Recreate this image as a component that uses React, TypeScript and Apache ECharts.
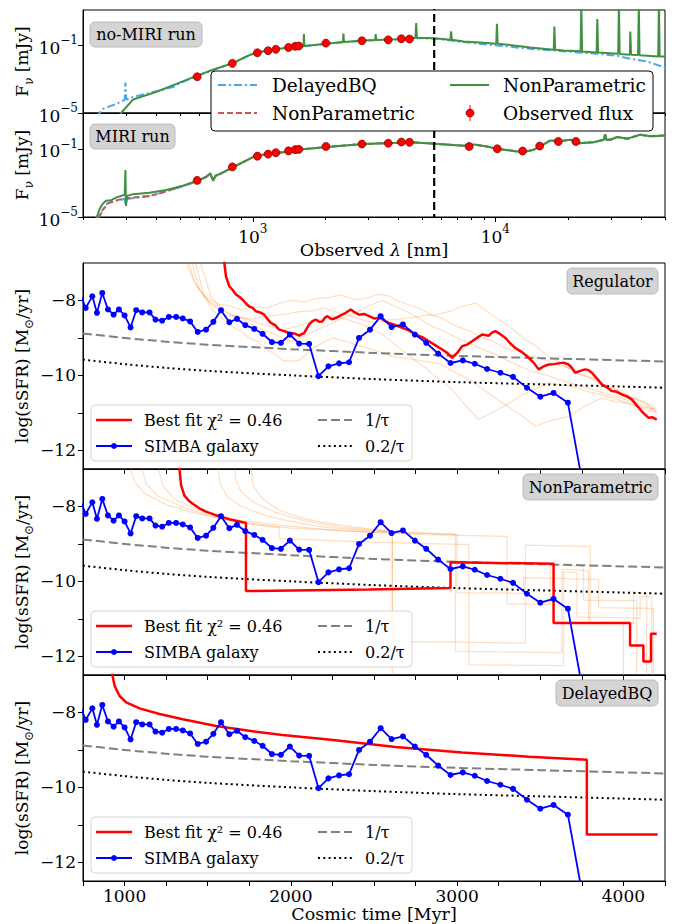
import React, { useEffect, useRef } from 'react';
import * as echarts from 'echarts';

const FONT = '"DejaVu Serif", serif';

// ---------- SED panels (log10 wavelength [nm], log10 flux [mJy]) ----------
const obsWave = [590, 824, 1045, 1157, 1245, 1404, 1496, 1549, 2003, 2820, 3620, 4100, 4430];
const obsFlux = [0.0014, 0.0087, 0.037, 0.049, 0.059, 0.076, 0.089, 0.093, 0.138, 0.19, 0.214, 0.25, 0.24];
const miriWave = [7810, 10190, 12970, 15250, 18200, 21500];
const miriFlux = [0.138, 0.1, 0.074, 0.145, 0.27, 0.27];
const cutWave = 5600;

const noMiriNonParam = [
  [2.43, -5.6], [2.457, -5.0], [2.506, -4.21], [2.547, -4.01], [2.588, -3.82], [2.643, -3.52], [2.712, -3.13],
  [2.781, -2.73], [2.836, -2.44], [2.919, -2.04], [2.974, -1.65], [3.001, -1.49], [3.056, -1.3], [3.125, -1.16],
  [3.194, -1.02], [3.209, -1.04], [3.211, -0.33], [3.213, -1.04], [3.263, -0.96], [3.332, -0.86], [3.372, -0.8],
  [3.374, -0.3], [3.376, -0.8], [3.456, -0.7], [3.505, -0.68], [3.507, -0.32], [3.509, -0.68], [3.594, -0.63],
  [3.671, -0.55], [3.674, 0.32], [3.677, -0.55], [3.749, -0.57], [3.815, -0.66], [3.818, -0.17], [3.821, -0.66],
  [3.869, -0.76], [3.938, -0.82], [4.004, -0.9], [4.007, 0.28], [4.01, -0.9], [4.076, -1.0], [4.145, -1.12],
  [4.241, -1.26], [4.244, 0.12], [4.247, -1.26], [4.282, -1.3], [4.352, -1.35], [4.355, 1.5], [4.358, -1.36],
  [4.418, -1.41], [4.421, 0.56], [4.424, -1.42], [4.507, -1.49], [4.51, 1.5], [4.513, -1.5], [4.555, -1.55],
  [4.557, -0.17], [4.56, -1.55], [4.589, -1.57], [4.592, 1.5], [4.595, -1.58], [4.672, -1.65], [4.675, 1.5],
  [4.678, -1.65], [4.71, -1.66],
];
const noMiriDelayed = [
  [2.355, -5.3], [2.368, -5.0], [2.382, -4.76], [2.409, -4.61], [2.437, -4.47], [2.472, -4.21], [2.475, -3.19],
  [2.478, -4.21], [2.506, -4.05], [2.561, -3.86], [2.616, -3.66], [2.671, -3.46], [2.712, -3.15], [2.781, -2.75],
  [2.836, -2.45], [2.919, -2.05], [2.974, -1.67], [3.001, -1.5], [3.056, -1.31], [3.125, -1.17], [3.194, -1.03],
  [3.263, -0.97], [3.332, -0.87], [3.456, -0.71], [3.594, -0.64], [3.671, -0.57], [3.749, -0.59], [3.869, -0.8],
  [4.007, -1.0], [4.145, -1.2], [4.282, -1.35], [4.421, -1.49], [4.503, -1.61], [4.557, -1.79], [4.626, -1.95],
  [4.71, -2.36],
];
const miriNonParam = [
  [2.35, -5.2], [2.357, -5.0], [2.368, -4.55], [2.382, -4.21], [2.395, -4.05], [2.416, -4.01], [2.437, -3.86],
  [2.457, -3.76], [2.472, -3.7], [2.475, -2.24], [2.477, -4.35], [2.483, -3.76], [2.506, -3.66], [2.574, -3.58],
  [2.643, -3.42], [2.712, -3.17], [2.774, -2.87], [2.809, -2.64], [2.825, -2.44], [2.836, -2.87], [2.847, -2.58],
  [2.864, -2.48], [2.919, -2.08], [3.001, -1.49], [3.056, -1.3], [3.125, -1.2], [3.194, -1.04], [3.332, -0.86],
  [3.456, -0.72], [3.594, -0.65], [3.649, -0.61], [3.749, -0.7], [3.869, -0.82], [3.91, -0.74], [3.965, -0.86],
  [4.007, -1.0], [4.062, -1.1], [4.113, -1.2], [4.158, -1.06], [4.2, -0.74], [4.227, -0.51], [4.268, -0.55],
  [4.31, -0.47], [4.344, -0.67], [4.406, -0.61], [4.448, -0.47], [4.453, -0.15], [4.458, -0.47], [4.475, -0.47],
  [4.503, -0.31], [4.544, -0.41], [4.599, -0.17], [4.64, -0.27], [4.71, -0.21],
];
const miriNonParamAltUV = [
  [2.36, -5.1], [2.368, -4.95], [2.382, -4.55], [2.409, -4.15], [2.45, -3.98], [2.475, -3.92], [2.506, -3.86],
  [2.574, -3.76], [2.616, -3.62], [2.671, -3.36], [2.712, -3.18],
];
const miriDelayedUV = [
  [2.362, -5.1], [2.372, -4.85], [2.4, -4.2], [2.45, -4.0], [2.472, -3.95], [2.475, -4.3], [2.478, -3.95],
  [2.506, -3.9], [2.574, -3.78], [2.643, -3.5], [2.712, -3.18],
];

// ---------- sSFR panels (cosmic time [Myr], log sSFR) ----------
const simbaGalaxy = [
  [740, -7.9], [766, -8.2], [806, -7.89], [834, -8.33], [866, -7.8], [900, -8.24], [934, -8.38], [966, -8.24],
  [1000, -8.4], [1036, -8.72], [1070, -8.26], [1106, -8.32], [1150, -8.32], [1186, -8.51], [1226, -8.54],
  [1266, -8.44], [1310, -8.44], [1350, -8.48], [1394, -8.56], [1440, -8.84], [1490, -8.78], [1534, -8.57],
  [1580, -8.26], [1630, -8.58], [1676, -8.49], [1726, -8.66], [1780, -8.76], [1830, -8.89], [1886, -9.11],
  [1940, -9.13], [1994, -8.91], [2050, -9.15], [2110, -9.16], [2166, -10.02], [2226, -9.76], [2290, -9.68],
  [2350, -9.65], [2410, -9.0], [2476, -8.78], [2540, -8.42], [2606, -8.71], [2674, -8.64], [2746, -8.91],
  [2814, -9.13], [2886, -9.42], [2960, -9.67], [3034, -9.6], [3106, -9.69], [3180, -9.83], [3260, -9.93],
  [3336, -10.04], [3420, -10.33], [3500, -10.57], [3580, -10.47], [3666, -10.73], [3800, -14.0],
];
const tauTimes = [750, 1000, 1250, 1500, 2000, 2500, 3000, 3500, 4000, 4250];
const invTau = [-8.88, -9.0, -9.1, -9.18, -9.3, -9.4, -9.48, -9.54, -9.6, -9.63];
const fifthInvTau = [-9.58, -9.7, -9.8, -9.88, -10.0, -10.1, -10.18, -10.24, -10.3, -10.33];

const regulatorFit = [
  [1598, -6.8], [1600, -7.0], [1610, -7.36], [1630, -7.62], [1650, -7.72], [1670, -7.84], [1690, -7.9],
  [1710, -7.98], [1730, -8.08], [1750, -8.16], [1770, -8.2], [1790, -8.29], [1815, -8.32], [1840, -8.38],
  [1860, -8.5], [1880, -8.6], [1905, -8.66], [1930, -8.78], [1960, -8.82], [1990, -8.87], [2020, -8.88],
  [2050, -8.94], [2065, -8.9], [2080, -8.87], [2095, -8.75], [2110, -8.64], [2130, -8.55], [2150, -8.51],
  [2170, -8.57], [2190, -8.56], [2205, -8.46], [2220, -8.42], [2245, -8.5], [2270, -8.47], [2300, -8.4],
  [2330, -8.33], [2360, -8.24], [2385, -8.32], [2410, -8.38], [2440, -8.36], [2470, -8.42], [2500, -8.48],
  [2540, -8.47], [2565, -8.55], [2590, -8.6], [2630, -8.66], [2670, -8.73], [2710, -8.8], [2750, -8.91],
  [2790, -8.98], [2830, -9.09], [2870, -9.2], [2910, -9.31], [2940, -9.4], [2970, -9.53], [3000, -9.4],
  [3030, -9.22], [3060, -9.18], [3090, -9.09], [3120, -9.0], [3150, -8.91], [3190, -8.94], [3210, -8.86],
  [3230, -8.82], [3260, -8.9], [3290, -9.0], [3320, -9.15], [3350, -9.27], [3390, -9.38], [3430, -9.53],
  [3460, -9.66], [3490, -9.84], [3520, -9.76], [3550, -9.71], [3580, -9.7], [3610, -9.68], [3640, -9.66],
  [3670, -9.71], [3690, -9.8], [3710, -9.93], [3740, -9.88], [3770, -9.84], [3790, -9.86], [3810, -9.93],
  [3840, -10.08], [3870, -10.24], [3900, -10.32], [3930, -10.42], [3960, -10.44], [3990, -10.51],
  [4020, -10.56], [4050, -10.64], [4080, -10.8], [4110, -10.96], [4130, -11.05], [4150, -11.13],
  [4175, -11.12], [4200, -11.18],
];
const regulatorSamples = [
  [[1380, -6.9], [1420, -7.5], [1480, -7.9], [1520, -7.98], [1560, -8.1], [1630, -8.14], [1700, -8.25],
   [1780, -8.18], [1850, -8.2], [1930, -8.08], [2000, -8.0], [2080, -8.04], [2150, -7.95], [2230, -7.92],
   [2300, -7.85], [2380, -7.98], [2450, -7.95], [2520, -7.84], [2590, -7.88], [2650, -8.02], [2700, -8.1],
   [2780, -8.22], [2850, -8.4], [2920, -8.5], [3000, -8.7], [3080, -8.82], [3150, -9.0], [3220, -9.1],
   [3300, -9.3], [3380, -9.36], [3450, -9.5], [3530, -9.58], [3600, -9.7], [3680, -9.82], [3750, -10.0],
   [3830, -10.1], [3900, -10.3], [3980, -10.4], [4050, -10.6], [4130, -10.72], [4200, -10.9]],
  [[1400, -6.9], [1450, -7.7], [1520, -8.1], [1560, -8.22], [1600, -8.4], [1680, -8.42], [1750, -8.5],
   [1830, -8.44], [1900, -8.4], [1980, -8.36], [2050, -8.3], [2130, -8.28], [2200, -8.2], [2280, -8.32],
   [2350, -8.4], [2430, -8.52], [2500, -8.6], [2580, -8.52], [2650, -8.5], [2730, -8.46], [2800, -8.4],
   [2880, -8.38], [2950, -8.3], [3030, -8.16], [3110, -8.07], [3180, -8.3], [3250, -8.5], [3320, -8.72],
   [3400, -9.0], [3480, -9.24], [3550, -9.5], [3620, -9.66], [3700, -9.9], [3780, -10.02], [3850, -10.2],
   [3930, -10.32], [4000, -10.5], [4080, -10.62], [4150, -10.8], [4200, -11.0]],
  [[1420, -6.9], [1480, -7.9], [1520, -8.2], [1560, -8.4], [1600, -8.52], [1650, -8.7], [1700, -8.82],
   [1750, -9.0], [1800, -9.1], [1850, -9.3], [1900, -9.42], [1950, -9.6], [2000, -9.62], [2050, -9.6],
   [2090, -9.45], [2120, -9.3], [2180, -9.16], [2250, -9.0], [2320, -9.08], [2400, -9.2], [2480, -9.3],
   [2550, -9.4], [2620, -9.5], [2700, -9.55], [2800, -9.62], [2900, -9.7], [2980, -9.9], [3070, -10.1],
   [3170, -10.42], [3270, -10.73], [3370, -11.02], [3470, -11.36], [3570, -11.2], [3670, -11.1], [3770, -10.82],
   [3870, -10.6], [3950, -10.7], [4030, -10.75], [4110, -10.84], [4190, -10.9]],
  [[1450, -6.9], [1520, -7.9], [1580, -8.2], [1650, -8.4], [1720, -8.48], [1800, -8.6], [1880, -8.7],
   [1950, -8.8], [2030, -8.7], [2100, -8.6], [2180, -8.5], [2250, -8.4], [2330, -8.5], [2400, -8.6],
   [2480, -8.74], [2550, -8.9], [2660, -9.3], [2770, -9.67], [2870, -10.02], [2970, -10.38], [3050, -10.8],
   [3130, -11.18], [3190, -11.04], [3250, -10.9], [3330, -10.7], [3400, -10.5], [3480, -10.34], [3550, -10.2],
   [3620, -10.26], [3700, -10.3], [3780, -10.42], [3850, -10.5], [3930, -10.6], [4000, -10.7], [4100, -10.86],
   [4200, -11.0]],
  [[1360, -6.9], [1430, -7.6], [1500, -8.0], [1550, -8.14], [1600, -8.3], [1680, -8.44], [1750, -8.6],
   [1830, -8.78], [1900, -8.9], [2000, -9.1], [2050, -9.0], [2100, -8.9], [2180, -8.74], [2250, -8.6],
   [2330, -8.44], [2400, -8.3], [2480, -8.12], [2550, -8.0], [2630, -8.16], [2700, -8.3], [2780, -8.5],
   [2850, -8.7], [2930, -8.84], [3000, -9.0], [3080, -9.16], [3150, -9.3], [3230, -9.44], [3300, -9.6],
   [3380, -9.76], [3450, -9.9], [3530, -9.98], [3600, -10.1], [3680, -10.2], [3750, -10.3], [3830, -10.4],
   [3900, -10.5], [3980, -10.6], [4050, -10.7], [4130, -10.82], [4200, -10.95]],
];

const nonParamFit = [
  [1326, -6.6], [1330, -7.0], [1340, -7.44], [1360, -7.71], [1385, -7.84], [1410, -7.93], [1450, -8.05],
  [1490, -8.14], [1540, -8.22], [1590, -8.29], [1630, -8.34], [1670, -8.38], [1730, -8.44], [1730, -10.26],
  [2470, -10.22], [2960, -10.18], [2960, -9.49], [3580, -9.53], [3580, -11.11], [4040, -11.11], [4040, -11.71],
  [4120, -11.71], [4120, -12.14], [4166, -12.14], [4166, -11.4], [4200, -11.4],
];
const nonParamSamples = [
  [[1030, -6.9], [1060, -7.35], [1120, -7.65], [1250, -7.95], [1400, -8.15], [1600, -8.35], [1800, -8.5],
   [2000, -8.58], [2470, -8.68], [2990, -8.74], [2990, -11.87], [3630, -11.9], [3630, -9.67], [3790, -9.72],
   [3790, -11.1], [4060, -11.12], [4060, -10.3], [4140, -10.32], [4140, -12.8]],
  [[1100, -6.9], [1130, -7.4], [1200, -7.72], [1350, -8.02], [1500, -8.22], [1700, -8.42], [1930, -8.55],
   [1930, -8.85], [2470, -8.95], [3070, -9.02], [3070, -12.23], [3640, -12.25], [3640, -9.75], [3720, -9.77],
   [3720, -10.95], [4100, -10.98], [4100, -10.4], [4170, -10.42], [4170, -12.8]],
  [[1660, -6.9], [1670, -7.3], [1700, -7.6], [1780, -7.9], [1900, -8.15], [2100, -8.4], [2300, -8.55],
   [2610, -8.68], [2610, -12.8]],
  [[1760, -6.9], [1775, -7.45], [1830, -7.8], [1930, -8.1], [2100, -8.35], [2300, -8.5], [2470, -8.6],
   [2610, -8.65], [2610, -11.6], [3410, -11.65], [3410, -9.03], [3800, -9.07], [3800, -11.09], [4000, -11.1],
   [4000, -12.8]],
  [[1200, -6.9], [1230, -7.45], [1300, -7.8], [1450, -8.1], [1650, -8.35], [1930, -8.5], [2300, -8.65],
   [2800, -8.75], [3300, -8.8], [3300, -10.6], [3560, -10.62], [3560, -9.55], [3760, -9.6], [3760, -10.5],
   [4080, -10.52], [4080, -12.8]],
  [[1560, -6.9], [1575, -7.4], [1620, -7.75], [1700, -8.0], [1850, -8.25], [2000, -8.4], [2200, -8.55],
   [2470, -8.65], [3000, -8.75], [3000, -10.3], [3400, -10.32], [3400, -9.9], [3850, -9.95], [3850, -10.7],
   [4180, -10.72], [4180, -12.8]],
];

const delayedFit = [
  [922, -6.6], [926, -6.98], [940, -7.29], [970, -7.56], [1010, -7.73], [1090, -7.89], [1210, -8.04],
  [1350, -8.18], [1550, -8.36], [1750, -8.49], [1950, -8.6], [2240, -8.73], [2630, -8.92], [3030, -9.07],
  [3430, -9.18], [3780, -9.26], [3780, -11.26], [4206, -11.26],
];

const panelNames = ['Regulator', 'NonParametric', 'DelayedBQ'];
const legendLabels = ['Best fit χ² = 0.46', 'SIMBA galaxy', '1/τ', '0.2/τ'];
const sedLegendLabels = ['DelayedBQ', 'NonParametric', 'NonParametric', 'Observed flux'];

// ---------- layout ----------
const PL = 83;
const PW = 582;
const sedGrids = [
  { top: 10, height: 103 },
  { top: 113, height: 104 },
];
const timeGrids = [
  { top: 263, height: 206 },
  { top: 469, height: 206 },
  { top: 675, height: 206 },
];

const C_GREEN = '#3f923f';
const C_BLUE_DASH = '#4ba6f5';
const C_RED_DASH = '#c95555';

const log10 = (v: number) => Math.log10(v);
const minorLogTicks: number[] = [];
for (let e = 2; e <= 4; e++) {
  for (let k = 2; k <= 9; k++) {
    const v = log10(k * Math.pow(10, e));
    if (v > 2.3 && v < 4.7) minorLogTicks.push(v);
  }
}

const supRich = {
  b: { fontSize: 17, fontFamily: FONT, color: '#000', lineHeight: 22, verticalAlign: 'bottom' },
  s: { fontSize: 12, fontFamily: FONT, color: '#000', lineHeight: 13, verticalAlign: 'top' },
};
const fmtPow = (v: number) => {
  const n = Math.round(v);
  return '{b|10}{s|' + (n < 0 ? '\u2212' + Math.abs(n) : String(n)) + '}';
};

function buildOption() {
  const grid: any[] = [];
  const xAxis: any[] = [];
  const yAxis: any[] = [];
  const series: any[] = [];
  const graphic: any[] = [];

  const axisLine = { show: true, onZero: false, lineStyle: { color: '#000', width: 1 } };

  // SED grids
  sedGrids.forEach((g, i) => {
    grid.push({ left: PL, width: PW, top: g.top, height: g.height, show: true, borderColor: '#000', borderWidth: 1, backgroundColor: 'transparent' });
    const gi = grid.length - 1;
    const labels = i === 1;
    xAxis.push({
      type: 'value', gridIndex: gi, min: 2.3, max: 4.7, position: 'bottom',
      axisLine, splitLine: { show: false },
      axisTick: { show: true, customValues: [3, 4], length: 5, lineStyle: { color: '#000' } },
      axisLabel: { show: labels, customValues: [3, 4], formatter: fmtPow, margin: 6, rich: supRich },
      name: labels ? '{a|Observed }{i|λ}{a| [nm]}' : '',
      nameLocation: 'middle', nameGap: 24, nameMoveOverlap: false,
      nameTextStyle: { fontFamily: FONT, fontSize: 17.5, color: '#000', rich: {
        a: { fontFamily: FONT, fontSize: 17.5, color: '#000' },
        i: { fontFamily: FONT, fontSize: 17.5, color: '#000', fontStyle: 'italic' } } },
    });
    const xMaj = xAxis.length - 1;
    xAxis.push({
      type: 'value', gridIndex: gi, min: 2.3, max: 4.7, position: 'bottom',
      axisLine: { show: false, onZero: false }, splitLine: { show: false },
      axisTick: { show: true, customValues: minorLogTicks, length: 3, lineStyle: { color: '#000' } },
      axisLabel: { show: false },
    });
    yAxis.push({
      type: 'value', gridIndex: gi, min: -5, max: 1.1,
      axisLine, splitLine: { show: false },
      axisTick: { show: true, customValues: [-5, -1], length: 5, lineStyle: { color: '#000' } },
      axisLabel: { show: true, customValues: [-5, -1], formatter: fmtPow, margin: 5, rich: supRich },
      name: '{a|F}{n|ν}{a| [mJy]}', nameLocation: 'middle', nameGap: 48, nameMoveOverlap: false,
      nameTextStyle: { fontFamily: FONT, fontSize: 17, color: '#000', rich: {
        a: { fontFamily: FONT, fontSize: 17, color: '#000', lineHeight: 22, verticalAlign: 'top' },
        n: { fontFamily: FONT, fontSize: 12, color: '#000', lineHeight: 14, verticalAlign: 'bottom' } } },
    });
    const yi = yAxis.length - 1;

    const curves = i === 0
      ? [
          { data: noMiriDelayed, color: C_BLUE_DASH, type: [8, 3, 2, 3], width: 2 },
          { data: noMiriNonParam, color: C_GREEN, type: 'solid', width: 2 },
        ]
      : [
          { data: miriDelayedUV.concat(miriNonParam.filter((p) => p[0] > 2.712)), color: C_BLUE_DASH, type: [8, 3, 2, 3], width: 2 },
          { data: miriNonParamAltUV.concat(miriNonParam.filter((p) => p[0] > 2.712)), color: C_RED_DASH, type: [6, 3], width: 2 },
          { data: miriNonParam, color: C_GREEN, type: 'solid', width: 2 },
        ];
    curves.forEach((c) => {
      series.push({
        type: 'line', xAxisIndex: xMaj, yAxisIndex: yi, data: c.data, showSymbol: false, symbol: 'none',
        clip: true, silent: true, lineStyle: { color: c.color, width: c.width, type: c.type },
      });
    });
    series.push({
      type: 'line', xAxisIndex: xMaj, yAxisIndex: yi, showSymbol: false, symbol: 'none', clip: true, silent: true,
      data: [[log10(cutWave), -6], [log10(cutWave), 2]],
      lineStyle: { color: '#000', width: 2.2, type: [8, 4] },
    });
    const waves = i === 0 ? obsWave : obsWave.concat(miriWave);
    const fluxes = i === 0 ? obsFlux : obsFlux.concat(miriFlux);
    series.push({
      type: 'scatter', xAxisIndex: xMaj, yAxisIndex: yi, silent: true, symbol: 'circle', symbolSize: 8,
      data: waves.map((w, k) => [log10(w), log10(fluxes[k])]),
      itemStyle: { color: '#ff0000', borderColor: '#800000', borderWidth: 0.7, opacity: 1 },
      z: 5,
    });
  });

  // time grids
  timeGrids.forEach((g, i) => {
    grid.push({ left: PL, width: PW, top: g.top, height: g.height, show: true, borderColor: '#000', borderWidth: 1, backgroundColor: 'transparent' });
    const gi = grid.length - 1;
    const labels = i === 2;
    xAxis.push({
      type: 'value', gridIndex: gi, min: 750, max: 4250, interval: 250, position: 'bottom',
      axisLine, splitLine: { show: false },
      axisTick: { show: true, length: 5, lineStyle: { color: '#000' } },
      axisLabel: { show: labels, formatter: (v: number) => (v % 1000 === 0 ? String(v) : ''), margin: 6,
        fontFamily: FONT, fontSize: 17, lineHeight: 17, color: '#000' },
      name: labels ? 'Cosmic time [Myr]' : '', nameLocation: 'middle', nameGap: 24, nameMoveOverlap: false,
      nameTextStyle: { fontFamily: FONT, fontSize: 17.5, lineHeight: 18, color: '#000' },
    });
    const xi = xAxis.length - 1;
    yAxis.push({
      type: 'value', gridIndex: gi, min: -12.5, max: -7,
      axisLine, splitLine: { show: false },
      axisTick: { show: true, customValues: [-12, -11, -10, -9, -8], length: 5, lineStyle: { color: '#000' } },
      axisLabel: { show: true, customValues: [-12, -10, -8], margin: 7,
        formatter: (v: number) => (v < 0 ? '\u2212' : '') + Math.abs(v), fontFamily: FONT, fontSize: 17, color: '#000' },
      name: '{a|log(sSFR) [M}{n|⊙}{a|/yr]}', nameLocation: 'middle', nameGap: 48, nameMoveOverlap: false,
      nameTextStyle: { fontFamily: FONT, fontSize: 17, color: '#000', rich: {
        a: { fontFamily: FONT, fontSize: 17, color: '#000', lineHeight: 22, verticalAlign: 'top' },
        n: { fontFamily: FONT, fontSize: 12, color: '#000', lineHeight: 14, verticalAlign: 'bottom' } } },
    });
    const yi = yAxis.length - 1;

    const samples = i === 0 ? regulatorSamples : i === 1 ? nonParamSamples : [];
    samples.forEach((s) => {
      series.push({
        type: 'line', xAxisIndex: xi, yAxisIndex: yi, data: s, showSymbol: false, symbol: 'none', clip: true,
        silent: true, lineStyle: { color: '#ff7f0e', width: 1.2, opacity: 0.26 },
      });
    });
    series.push({
      type: 'line', xAxisIndex: xi, yAxisIndex: yi, data: tauTimes.map((t, k) => [t, invTau[k]]),
      showSymbol: false, symbol: 'none', clip: true, silent: true, smooth: 0.3,
      lineStyle: { color: '#808080', width: 2, type: [9, 4] },
    });
    series.push({
      type: 'line', xAxisIndex: xi, yAxisIndex: yi, data: tauTimes.map((t, k) => [t, fifthInvTau[k]]),
      showSymbol: false, symbol: 'none', clip: true, silent: true, smooth: 0.3,
      lineStyle: { color: '#000', width: 2, type: [2, 3.3] },
    });
    const fit = i === 0 ? regulatorFit : i === 1 ? nonParamFit : delayedFit;
    series.push({
      type: 'line', xAxisIndex: xi, yAxisIndex: yi, data: fit, showSymbol: false, symbol: 'none', clip: true,
      silent: true, lineStyle: { color: '#ff0000', width: 2.5 },
    });
    series.push({
      type: 'line', xAxisIndex: xi, yAxisIndex: yi, data: simbaGalaxy, showSymbol: true, symbol: 'circle',
      symbolSize: 6, clip: true, silent: true, lineStyle: { color: '#0000ff', width: 1.8 },
      itemStyle: { color: '#0000ff', borderWidth: 0 },
    });

    // legend (drawn)
    const t = g.top;
    const txt = (x: number, y: number, s: string, size = 16) => ({
      type: 'text', x, y, z: 102,
      style: { text: s, font: `${size}px ${FONT}`, fill: '#000', textAlign: 'left', textVerticalAlign: 'middle', align: 'left', verticalAlign: 'middle' },
    });
    graphic.push({ type: 'rect', z: 100, shape: { x: 91, y: t + 142, width: 321, height: 56, r: 4 },
      style: { fill: 'rgba(255,255,255,0.85)', stroke: '#d6d6d6', lineWidth: 1 } });
    graphic.push({ type: 'line', z: 101, shape: { x1: 96, y1: t + 157, x2: 132, y2: t + 157 }, style: { stroke: '#ff0000', lineWidth: 2.5 } });
    graphic.push(txt(144, t + 157, legendLabels[0]));
    graphic.push({ type: 'line', z: 101, shape: { x1: 96, y1: t + 183, x2: 132, y2: t + 183 }, style: { stroke: '#0000ff', lineWidth: 1.8 } });
    graphic.push({ type: 'circle', z: 101, shape: { cx: 114, cy: t + 183, r: 3 }, style: { fill: '#0000ff' } });
    graphic.push(txt(144, t + 183, legendLabels[1]));
    graphic.push({ type: 'line', z: 101, shape: { x1: 318, y1: t + 157, x2: 352, y2: t + 157 }, style: { stroke: '#808080', lineWidth: 2, lineDash: [9, 4] } });
    graphic.push(txt(365, t + 157, legendLabels[2]));
    graphic.push({ type: 'line', z: 101, shape: { x1: 318, y1: t + 183, x2: 352, y2: t + 183 }, style: { stroke: '#000', lineWidth: 2, lineDash: [2, 3.3] } });
    graphic.push(txt(365, t + 183, legendLabels[3]));

    // badge
    const badgeW = [91, 135, 102][i];
    const bx = 658 - badgeW;
    graphic.push({ type: 'rect', z: 100, shape: { x: bx, y: t + 5, width: badgeW, height: 26, r: 5 },
      style: { fill: '#d4d4d4', stroke: '#b0b0b0', lineWidth: 0.8 } });
    graphic.push({ type: 'text', z: 101, x: bx + badgeW / 2, y: t + 18,
      style: { text: panelNames[i], font: `16px ${FONT}`, fill: '#000', textAlign: 'center', textVerticalAlign: 'middle', align: 'center', verticalAlign: 'middle' } });
  });

  // SED badges
  const sedBadges = [
    { x: 90, y: 22, w: 112, label: 'no-MIRI run' },
    { x: 90, y: 124, w: 85, label: 'MIRI run' },
  ];
  sedBadges.forEach((b) => {
    graphic.push({ type: 'rect', z: 100, shape: { x: b.x, y: b.y, width: b.w, height: 25, r: 5 },
      style: { fill: '#d4d4d4', stroke: '#b0b0b0', lineWidth: 0.8 } });
    graphic.push({ type: 'text', z: 101, x: b.x + b.w / 2, y: b.y + 12.5,
      style: { text: b.label, font: `16px ${FONT}`, fill: '#000', textAlign: 'center', textVerticalAlign: 'middle', align: 'center', verticalAlign: 'middle' } });
  });

  // SED legend
  const stxt = (x: number, y: number, s: string) => ({
    type: 'text', x, y, z: 102,
    style: { text: s, font: `18.5px ${FONT}`, fill: '#000', textAlign: 'left', textVerticalAlign: 'middle', align: 'left', verticalAlign: 'middle' },
  });
  graphic.push({ type: 'rect', z: 100, shape: { x: 211, y: 71, width: 442, height: 60, r: 4 },
    style: { fill: '#fff', stroke: '#000', lineWidth: 1 } });
  graphic.push({ type: 'line', z: 101, shape: { x1: 218, y1: 85, x2: 257, y2: 85 }, style: { stroke: C_BLUE_DASH, lineWidth: 2, lineDash: [8, 3, 2, 3] } });
  graphic.push(stxt(272, 85, sedLegendLabels[0]));
  graphic.push({ type: 'line', z: 101, shape: { x1: 218, y1: 113, x2: 257, y2: 113 }, style: { stroke: C_RED_DASH, lineWidth: 2, lineDash: [6, 3] } });
  graphic.push(stxt(272, 113, sedLegendLabels[1]));
  graphic.push({ type: 'line', z: 101, shape: { x1: 450, y1: 85, x2: 489, y2: 85 }, style: { stroke: C_GREEN, lineWidth: 2 } });
  graphic.push(stxt(503, 85, sedLegendLabels[2]));
  graphic.push({ type: 'line', z: 101, shape: { x1: 470, y1: 105, x2: 470, y2: 121 }, style: { stroke: '#ff0000', lineWidth: 1 } });
  graphic.push({ type: 'circle', z: 102, shape: { cx: 470, cy: 113, r: 4 }, style: { fill: '#ff0000', stroke: '#800000', lineWidth: 0.7 } });
  graphic.push(stxt(503, 113, sedLegendLabels[3]));

  return {
    animation: false,
    backgroundColor: '#fff',
    textStyle: { fontFamily: FONT },
    grid, xAxis, yAxis, series, graphic,
  };
}

export default function App() {
  const ref = useRef<HTMLDivElement>(null);
  useEffect(() => {
    document.body.style.margin = '0';
    const chart = echarts.init(ref.current as HTMLDivElement, null, { renderer: 'svg' });
    chart.setOption(buildOption() as any);
    return () => chart.dispose();
  }, []);
  return <div ref={ref} style={{ position: 'absolute', left: 0, top: 0, width: 674, height: 924, background: '#fff' }} />;
}
